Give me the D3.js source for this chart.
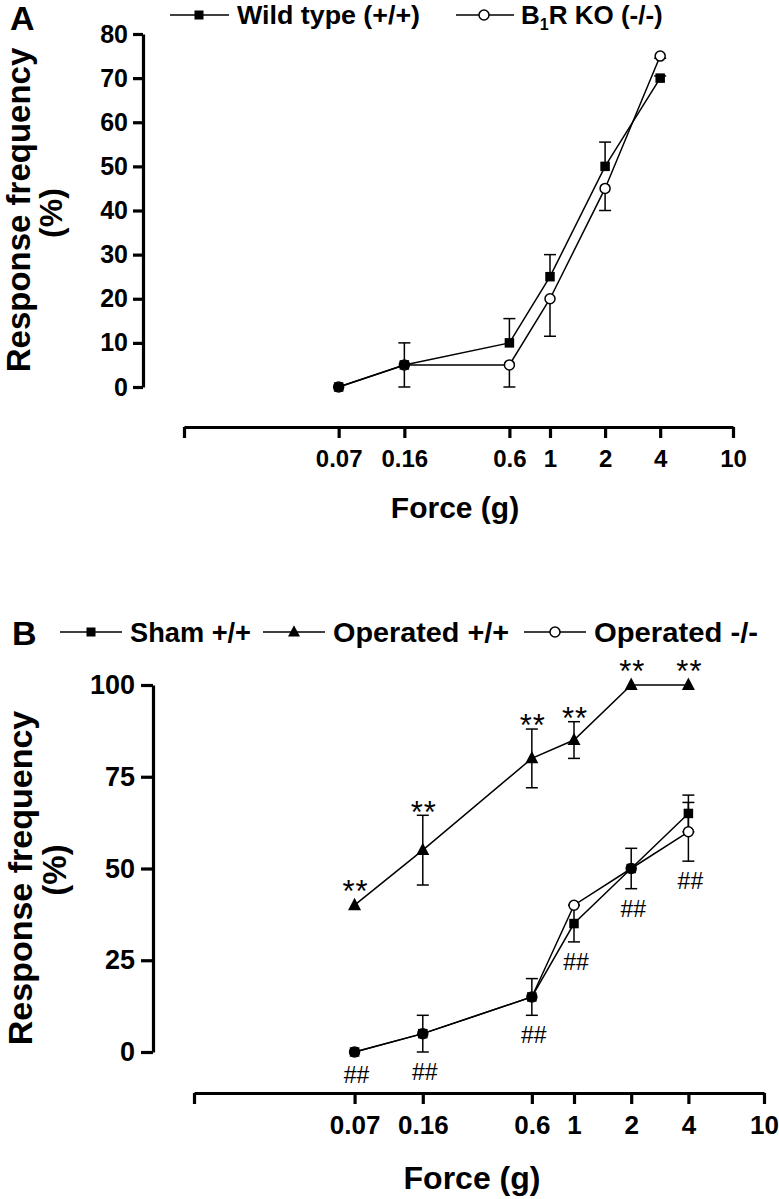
<!DOCTYPE html>
<html>
<head>
<meta charset="utf-8">
<script src="https://cdn.jsdelivr.net/npm/d3@7"></script>
<style>
  html, body { margin: 0; padding: 0; background: #fff; }
  svg { display: block; }
  text { font-family: "Liberation Sans", Arial, Helvetica, sans-serif; fill: #000; }
</style>
</head>
<body>
<svg id="chart" width="779" height="1199"></svg>
<script>
// ---------------- DATA ----------------
const forces = [0.07, 0.16, 0.6, 1, 2, 4];
const xTickValues = [0.01, 0.07, 0.16, 0.6, 1, 2, 4, 10];
const xTickLabels = ["", "0.07", "0.16", "0.6", "1", "2", "4", "10"];

// Panel A
const aTicksY = [0, 10, 20, 30, 40, 50, 60, 70, 80];
const wildType = [0, 5, 10, 25, 50, 70];
const wildTypeErr = [0, 5, 5.5, 5, 5.5, 0.5];   // drawn above
const b1rKO = [0, 5, 5, 20, 45, 75];
const b1rKOErr = [0, 5, 5, 8.5, 5, 0.5];        // drawn below

// Panel B
const bTicksY = [0, 25, 50, 75, 100];
const shamWT = [0, 5, 15, 35, 50, 65];
const shamWTErr = [0, 5, 5, 5, 5.5, 5];
const operatedWT = [40, 55, 80, 85, 100, 100];
const operatedWTErr = [0, 9.5, 8, 5, 0, 0];
const operatedKO = [0, 5, 15, 40, 50, 60];
const operatedKOErr = [0, 0, 0, 0, 0, 8];
const operatedWTSig = ["**", "**", "**", "**", "**", "**"];
const shamSig = ["##", "##", "##", "##", "##", "##"];

// ---------------- DRAW ----------------
const svg = d3.select("#chart");
const FONT = '"Liberation Sans", Arial, Helvetica, sans-serif';

function drawSquare(g, x, y, s) {
  g.append("rect").attr("x", x - s / 2).attr("y", y - s / 2)
    .attr("width", s).attr("height", s).attr("fill", "#000");
}
function drawCircle(g, x, y, r) {
  g.append("circle").attr("cx", x).attr("cy", y).attr("r", r)
    .attr("fill", "#fff").attr("stroke", "#000").attr("stroke-width", 1.5);
}
function drawTriangle(g, x, y, s) {
  const h = s * 0.95;
  g.append("path")
    .attr("d", `M${x},${y - h * 0.6}L${x + s / 2},${y + h * 0.4}L${x - s / 2},${y + h * 0.4}Z`)
    .attr("fill", "#000");
}
function errBar(g, x, y1, y2, cap) {
  g.append("line").attr("x1", x).attr("x2", x).attr("y1", y1).attr("y2", y2)
    .attr("stroke", "#000").attr("stroke-width", 1.5);
  g.append("line").attr("x1", x - cap / 2).attr("x2", x + cap / 2).attr("y1", y2).attr("y2", y2)
    .attr("stroke", "#000").attr("stroke-width", 1.5);
}
function seriesLine(g, x, y, vals) {
  const line = d3.line().x((d, i) => x(forces[i])).y(d => y(d));
  g.append("path").datum(vals).attr("d", line)
    .attr("fill", "none").attr("stroke", "#000").attr("stroke-width", 1.5);
}
function styleAxis(g, fs) {
  g.selectAll("path.domain").attr("stroke", "#000").attr("stroke-width", 3.2);
  g.selectAll(".tick line").attr("stroke", "#000").attr("stroke-width", 3.2);
  g.selectAll(".tick text").attr("font-family", FONT).attr("font-weight", "bold")
    .attr("font-size", fs).attr("fill", "#000");
}

// ===== Panel A =====
{
  const x = d3.scaleLog().domain([0.01, 10]).range([184, 733]);
  const y = d3.scaleLinear().domain([0, 80]).range([387, 34]);
  const g = svg.append("g");

  const xa = g.append("g").attr("transform", "translate(0,427)")
    .call(d3.axisBottom(x).tickValues(xTickValues)
      .tickFormat((d, i) => xTickLabels[i]).tickSize(11).tickSizeOuter(0).tickPadding(12));
  styleAxis(xa, 24);

  const ya = g.append("g").attr("transform", "translate(143,0)")
    .call(d3.axisLeft(y).tickValues(aTicksY).tickSize(10).tickSizeOuter(0).tickPadding(5));
  styleAxis(ya, 25);

  seriesLine(g, x, y, wildType);
  seriesLine(g, x, y, b1rKO);
  forces.forEach((f, i) => {
    if (wildTypeErr[i] > 0) errBar(g, x(f), y(wildType[i]), y(wildType[i] + wildTypeErr[i]), 12);
    if (b1rKOErr[i] > 0) errBar(g, x(f), y(b1rKO[i]), y(b1rKO[i] - b1rKOErr[i]), 12);
  });
  forces.forEach((f, i) => drawCircle(g, x(f), y(b1rKO[i]), 5));
  forces.forEach((f, i) => drawSquare(g, x(f), y(wildType[i]), 9.5));

  g.append("text").attr("transform", "translate(30,210) rotate(-90)")
    .attr("text-anchor", "middle").attr("font-size", 33).attr("font-weight", "bold")
    .text("Response frequency");
  g.append("text").attr("transform", "translate(62,213) rotate(-90)")
    .attr("text-anchor", "middle").attr("font-size", 32).attr("font-weight", "bold")
    .text("(%)");
  g.append("text").attr("x", 455).attr("y", 518).attr("text-anchor", "middle")
    .attr("font-size", 30).attr("font-weight", "bold").text("Force (g)");

  g.append("text").attr("x", 10).attr("y", 30).attr("font-size", 34)
    .attr("font-weight", "bold").text("A");

  const ly = 15;
  g.append("line").attr("x1", 170).attr("x2", 229).attr("y1", ly).attr("y2", ly)
    .attr("stroke", "#000").attr("stroke-width", 1.5);
  drawSquare(g, 199, ly, 9);
  g.append("text").attr("x", 237).attr("y", 24).attr("font-size", 26).attr("font-weight", "bold")
    .attr("textLength", 183).attr("lengthAdjust", "spacingAndGlyphs").text("Wild type (+/+)");
  g.append("line").attr("x1", 456).attr("x2", 514).attr("y1", ly).attr("y2", ly)
    .attr("stroke", "#000").attr("stroke-width", 1.5);
  drawCircle(g, 484, ly, 5);
  const t2 = g.append("text").attr("x", 521).attr("y", 24).attr("font-size", 26).attr("font-weight", "bold");
  t2.append("tspan").text("B");
  t2.append("tspan").attr("font-size", 16).attr("dy", 6).text("1");
  t2.append("tspan").attr("dy", -6).text("R KO (-/-)");
}

// ===== Panel B =====
{
  const x = d3.scaleLog().domain([0.01, 10]).range([194, 764]);
  const y = d3.scaleLinear().domain([0, 100]).range([1052, 685]);
  const g = svg.append("g");

  const xa = g.append("g").attr("transform", "translate(0,1093)")
    .call(d3.axisBottom(x).tickValues(xTickValues)
      .tickFormat((d, i) => xTickLabels[i]).tickSize(11).tickSizeOuter(0).tickPadding(12));
  styleAxis(xa, 26);

  const ya = g.append("g").attr("transform", "translate(153,0)")
    .call(d3.axisLeft(y).tickValues(bTicksY).tickSize(12).tickSizeOuter(0).tickPadding(6));
  styleAxis(ya, 27);

  seriesLine(g, x, y, shamWT);
  seriesLine(g, x, y, operatedKO);
  seriesLine(g, x, y, operatedWT);

  forces.forEach((f, i) => {
    const px = x(f);
    if (shamWTErr[i] > 0) {
      errBar(g, px, y(shamWT[i]), y(shamWT[i] + shamWTErr[i]), 12);
      errBar(g, px, y(shamWT[i]), y(shamWT[i] - shamWTErr[i]), 12);
    }
    if (operatedKOErr[i] > 0) {
      errBar(g, px, y(operatedKO[i]), y(operatedKO[i] + operatedKOErr[i]), 12);
      errBar(g, px, y(operatedKO[i]), y(operatedKO[i] - operatedKOErr[i]), 12);
    }
    if (operatedWTErr[i] > 0) {
      errBar(g, px, y(operatedWT[i]), y(operatedWT[i] + operatedWTErr[i]), 12);
      errBar(g, px, y(operatedWT[i]), y(operatedWT[i] - operatedWTErr[i]), 12);
    }
  });

  forces.forEach((f, i) => drawCircle(g, x(f), y(operatedKO[i]), 5));
  forces.forEach((f, i) => drawSquare(g, x(f), y(shamWT[i]), 9.5));
  forces.forEach((f, i) => drawTriangle(g, x(f), y(operatedWT[i]), 13));

  forces.forEach((f, i) => {
    const px = x(f);
    const topY = Math.min(y(operatedWT[i] + operatedWTErr[i]) - 12, y(operatedWT[i]) - 22);
    g.append("text").attr("x", px + 1).attr("y", topY).attr("dy", "0.62em")
      .attr("text-anchor", "middle").attr("font-size", 31).attr("letter-spacing", 1)
      .text(operatedWTSig[i]);
    const low = Math.max(y(shamWT[i] - shamWTErr[i]), y(operatedKO[i] - operatedKOErr[i]));
    const botY = Math.max(low + 20, y(shamWT[i]) + 23);
    g.append("text").attr("x", px + 2).attr("y", botY).attr("dy", "0.35em")
      .attr("text-anchor", "middle").attr("font-size", 23).text(shamSig[i]);
  });

  g.append("text").attr("transform", "translate(32,878) rotate(-90)")
    .attr("text-anchor", "middle").attr("font-size", 34).attr("font-weight", "bold")
    .text("Response frequency");
  g.append("text").attr("transform", "translate(66,870) rotate(-90)")
    .attr("text-anchor", "middle").attr("font-size", 33).attr("font-weight", "bold")
    .text("(%)");
  g.append("text").attr("x", 472).attr("y", 1189).attr("text-anchor", "middle")
    .attr("font-size", 32).attr("font-weight", "bold").text("Force (g)");

  g.append("text").attr("x", 12).attr("y", 645).attr("font-size", 34)
    .attr("font-weight", "bold").text("B");

  const ly = 632, by = 642;
  const leg = [
    { x1: 60, x2: 122, tx: 130, tw: 121, label: "Sham +/+", m: "sq" },
    { x1: 263, x2: 325, tx: 333, tw: 176, label: "Operated +/+", m: "tri" },
    { x1: 524, x2: 586, tx: 594, tw: 164, label: "Operated -/-", m: "circ" }
  ];
  leg.forEach(l => {
    g.append("line").attr("x1", l.x1).attr("x2", l.x2).attr("y1", ly).attr("y2", ly)
      .attr("stroke", "#000").attr("stroke-width", 1.5);
    const cx = (l.x1 + l.x2) / 2;
    if (l.m === "sq") drawSquare(g, cx, ly, 9);
    if (l.m === "tri") drawTriangle(g, cx, ly, 12);
    if (l.m === "circ") drawCircle(g, cx, ly, 5);
    g.append("text").attr("x", l.tx).attr("y", by).attr("font-size", 28).attr("font-weight", "bold")
      .attr("textLength", l.tw).attr("lengthAdjust", "spacingAndGlyphs").text(l.label);
  });
}
</script>
</body>
</html>
